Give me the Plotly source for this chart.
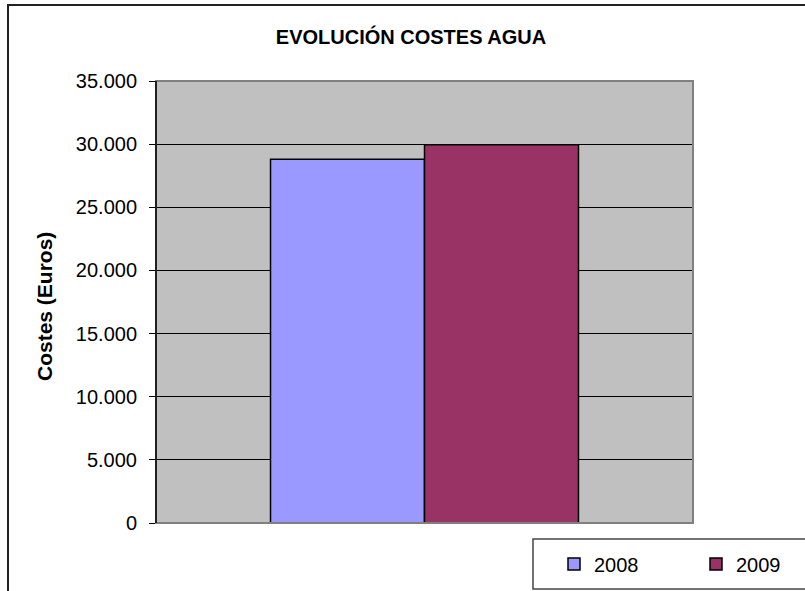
import plotly.graph_objects as go

# Water cost data (euros) per year
categoria = ["Costes agua"]
anios = ["2008", "2009"]
costes = [28800, 29950]
colores = ["#9999FF", "#993366"]

W, H = 805, 591
L, R, T, B = 156, 693, 81, 523  # plot area in pixels


def px_x(p):
    return (p - L) / (R - L)


def px_y(p):
    return (B - p) / (B - T)


fig = go.Figure()
for anio, valor, color in zip(anios, costes, colores):
    fig.add_trace(go.Bar(
        x=categoria, y=[valor], name=anio,
        marker=dict(color=color, line=dict(color="#000000", width=1.5)),
    ))

font_family = "Liberation Sans, Arial, sans-serif"

fig.update_layout(
    width=W, height=H,
    margin=dict(l=L, r=W - R, t=T, b=H - B, pad=0, autoexpand=False),
    paper_bgcolor="#FFFFFF",
    plot_bgcolor="#C0C0C0",
    separators=",.",
    barmode="group",
    bargap=0.4265,
    bargroupgap=0,
    font=dict(family=font_family, size=20, color="#000000"),
    title=dict(
        text="<b>EVOLUCIÓN COSTES AGUA</b>",
        x=px_x(411), xref="paper", xanchor="center",
        y=1 - 37 / H, yref="container", yanchor="middle",
        font=dict(family=font_family, size=20, color="#000000"),
    ),
    xaxis=dict(
        showticklabels=False, ticks="", showgrid=False, zeroline=False,
        showline=False,
    ),
    yaxis=dict(
        range=[0, 35000], dtick=5000, tick0=0, tickformat=",d",
        showgrid=True, gridcolor="#000000", gridwidth=1,
        zeroline=False,
        showline=True, linecolor="#000000", linewidth=1,
        ticks="outside", ticklen=6, tickcolor="#000000", tickwidth=1,
        ticklabelstandoff=8,
        tickfont=dict(family=font_family, size=20, color="#000000"),
    ),
    showlegend=True,
    legend=dict(
        orientation="h",
        x=px_x(554), xanchor="left",
        y=px_y(564), yanchor="middle",
        bgcolor="rgba(0,0,0,0)", borderwidth=0,
        font=dict(family=font_family, size=20, color="#000000"),
        entrywidth=97, entrywidthmode="pixels",
        traceorder="normal",
    ),
    shapes=[
        # outer chart border (runs off the right and bottom edges)
        dict(type="rect", xref="paper", yref="paper",
             x0=px_x(8), x1=px_x(W + 10), y0=px_y(5), y1=px_y(H + 10),
             line=dict(color="#222222", width=2), layer="below"),
        # plot area frame
        dict(type="rect", xref="paper", yref="paper",
             x0=0, x1=1, y0=0, y1=1,
             line=dict(color="#808080", width=2), layer="above"),
        # legend box
        dict(type="rect", xref="paper", yref="paper",
             x0=px_x(533), x1=px_x(W + 10), y0=px_y(539), y1=px_y(589),
             line=dict(color="#444444", width=1.5), layer="below"),
    ],
    annotations=[
        dict(text="<b>Costes (Euros)</b>", textangle=-90,
             xref="paper", yref="paper",
             x=px_x(44), y=px_y(307), xanchor="center", yanchor="middle",
             showarrow=False,
             font=dict(family=font_family, size=21, color="#000000")),
    ],
)

# left axis line drawn over the frame
fig.add_shape(type="line", xref="paper", yref="paper", x0=0, x1=0, y0=0, y1=1,
              line=dict(color="#000000", width=1.5), layer="above")

fig.write_html("out.html")
